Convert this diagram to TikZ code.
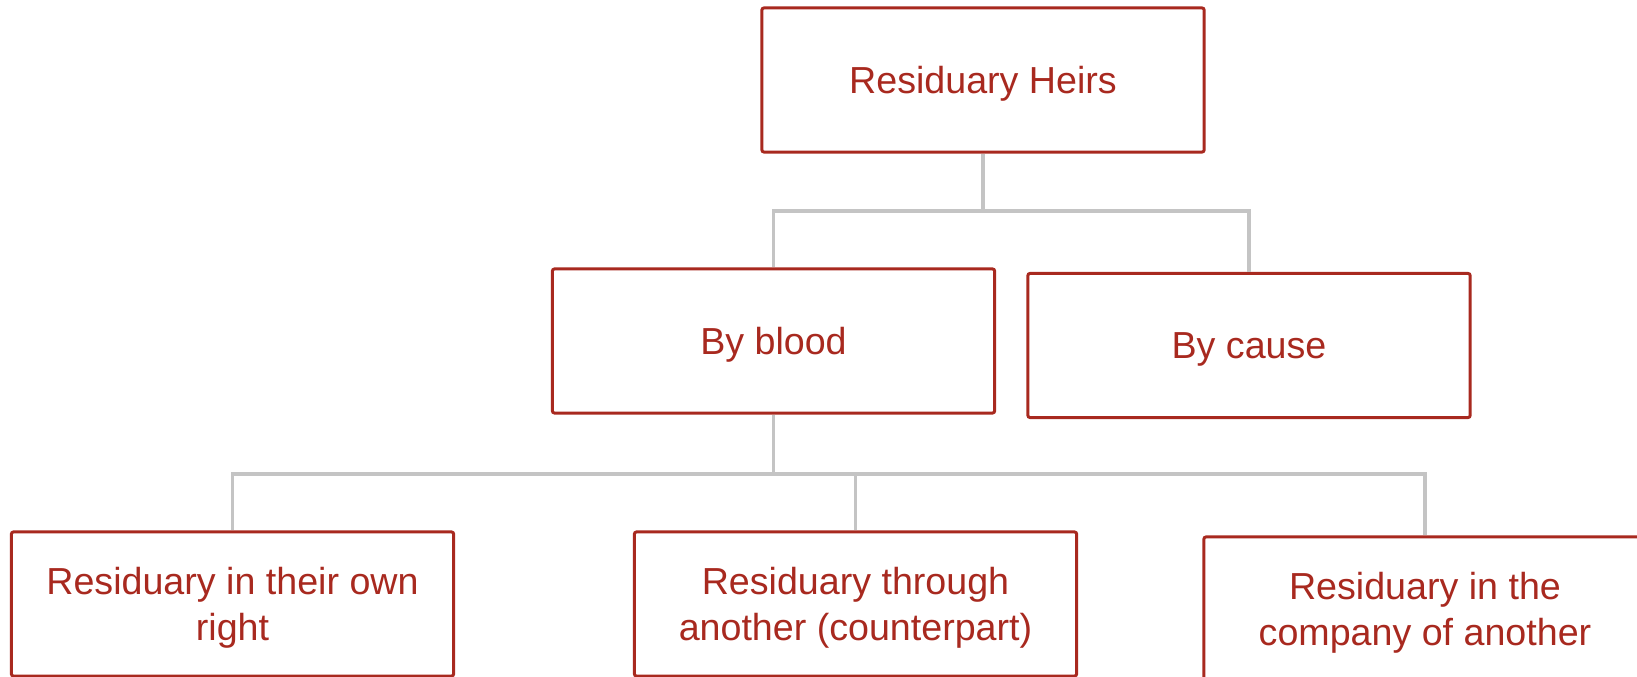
\documentclass[tikz,border=0pt]{standalone}
\usepackage{fontspec}
\setmainfont{Liberation Sans}
\usetikzlibrary{calc}
\definecolor{heirred}{HTML}{A8291F}
\definecolor{linkgray}{HTML}{C4C4C4}

\begin{document}
\begin{tikzpicture}[x=0.01cm, y=-0.01cm,
	heirbox/.style={draw=heirred, line width=0.85pt, rounded corners=0.6pt, text=heirred,
		minimum width=4.42cm, minimum height=1.44cm, align=center, inner sep=0pt,
		text depth=0pt, font=\fontsize{10.7}{13}\selectfont},
	link/.style={draw=linkgray, line width=1.1pt}]
\useasboundingbox (0,0) rectangle (1637,677);
%top
\node[heirbox] (heirs) at (983,80) {Residuary Heirs};
%second row
\node[heirbox] (blood) at (773.5,341) {By blood};
\node[heirbox] (cause) at (1249,345.5) {By cause};
%third row
\node[heirbox] (own) at (232.5,604) {Residuary in their own\\right};
\node[heirbox] (through) at (855.5,604) {Residuary through\\another (counterpart)};
\node[heirbox] (company) at (1425,609) {Residuary in the\\company of another};
%links
\coordinate (h1) at (983,211);
\coordinate (b1) at (773.5,474);
\path[link]
(heirs.south) -- (h1) -| (blood.north)
(h1) -| (cause.north)
(blood.south) -- (b1) -| (own.north)
(b1) -| (through.north)
(b1) -| (company.north)
;
\end{tikzpicture}
\end{document}
